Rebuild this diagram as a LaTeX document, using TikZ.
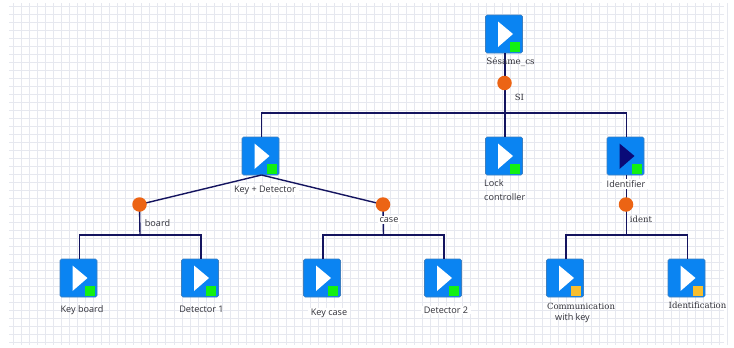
\documentclass[tikz,border=0pt]{standalone}
\usepackage{fontspec}
\setmainfont{Open Sans}
\newfontfamily\serifl{DejaVu Serif}
\definecolor{iconblue}{HTML}{0A84F2}
\definecolor{iconedge}{HTML}{3C7FC0}
\definecolor{wirec}{HTML}{14145F}
\definecolor{dotc}{HTML}{EC6414}
\definecolor{gridc}{HTML}{E6E8EF}
\definecolor{leafg}{HTML}{12F012}
\definecolor{leafy}{HTML}{F7BE2E}
\definecolor{darkt}{HTML}{0A0A78}
\definecolor{labelc}{HTML}{303038}
\tikzset{
  icon/.style={draw=iconedge,line width=.6pt,fill=iconblue,rounded corners=1.5pt,minimum width=37pt,minimum height=38pt,inner sep=0pt,outer sep=0pt},
  wire/.style={draw=wirec,line width=1.4pt},
  junction/.style={circle,fill=dotc,minimum size=14.5pt,inner sep=0pt,outer sep=0pt},
  lab/.style={text=labelc,font=\fontsize{9.1}{14.5}\selectfont,inner sep=1pt},
  slab/.style={text=labelc,font=\serifl\fontsize{8.5}{13}\selectfont,inner sep=1pt},
  patch/.style={fill=white,inner xsep=3pt,inner ysep=1pt},
  up/.style={xshift=1pt}
}
\newcommand{\blockicon}[5]{%
  \node[icon] (#1) at (#2,#3) {};
  \fill[#4] ([xshift=-6pt,yshift=12.5pt]#1.center) -- ([xshift=9pt]#1.center) -- ([xshift=-6pt,yshift=-13pt]#1.center) -- cycle;
  \fill[#5] ([xshift=6pt,yshift=-8pt]#1.center) rectangle ([xshift=16pt,yshift=-18pt]#1.center);
}
\begin{document}
\begin{tikzpicture}[x=1pt,y=-1pt]
\useasboundingbox (0,0) rectangle (734,348);
\fill[white] (0,0) rectangle (734,348);
% grid
\foreach \k in {0,...,89} {\draw[gridc,line width=1pt] ({13.6+8.02*\k},3) -- ({13.6+8.02*\k},345);}
\foreach \k in {0,...,42} {\draw[gridc,line width=1pt] (9,{6+8*\k}) -- (724,{6+8*\k});}
% icons
\blockicon{root}{504}{34}{white}{leafg}
\blockicon{kd}{260.5}{156}{white}{leafg}
\blockicon{lock}{504}{156}{white}{leafg}
\blockicon{idn}{625.5}{156}{darkt}{leafg}
\blockicon{kb}{78.5}{278}{white}{leafg}
\blockicon{da}{200}{278}{white}{leafg}
\blockicon{kc}{322}{278}{white}{leafg}
\blockicon{db}{443}{278}{white}{leafg}
\blockicon{com}{565}{278}{white}{leafy}
\blockicon{ida}{686.5}{278}{white}{leafy}
% junctions and buses
\coordinate (b0) at (505,113);
\coordinate (b1) at (140,235);
\coordinate (b2) at (383.5,235);
\coordinate (b3) at (626.5,235);
\coordinate (j0c) at (504.5,83);
\coordinate (j1c) at (139.5,204.5);
\coordinate (j2c) at (383,204.5);
\coordinate (j3c) at (626,204.5);
\draw[wire] ([up]root.south) -- (b0);
\draw[wire] ([up]kd.north) |- (b0) -| ([up]idn.north);
\draw[wire] ([up]lock.north) -- (b0);
\draw[wire] ([up]kd.south) -- (j1c);
\draw[wire] ([up]kd.south) -- (j2c);
\draw[wire] (j1c) -- (b1);
\draw[wire] (j2c) -- (b2);
\draw[wire] ([up]kb.north) |- (b1) -| ([up]da.north);
\draw[wire] ([up]kc.north) |- (b2) -| ([up]db.north);
\draw[wire] ([up]idn.south) -- (b3);
\draw[wire] ([up]com.north) |- (b3) -| ([up]ida.north);
\node[junction] (j0) at (j0c) {};
\node[junction] (j1) at (j1c) {};
\node[junction] (j2) at (j2c) {};
\node[junction] (j3) at (j3c) {};
% labels
\node[slab,font=\serifl\fontsize{8.8}{13}\selectfont] (l0) at (510.5,62) {Sésame\_cs};
\node[slab] (s0) at (519.5,97) {SI};
\node[lab,patch] (l1) at (265,190) {Key + Detector};
\node[lab,align=left,anchor=north west] (l2) at (483,178) {Lock\\controller};
\node[lab,patch,inner xsep=5pt] (l3) at (626,184) {Identifier};
\node[lab] (s1) at (157.5,223) {board};
\node[lab,patch,inner xsep=2pt] (s2) at (389,220) {case};
\node[slab] (s3) at (641,219) {ident};
\node[lab] (l4) at (82,310) {Key board};
\node[lab] (l5) at (201.5,309) {Detector 1};
\node[lab,patch] (l6) at (329,313) {Key case};
\node[lab,patch] (l7) at (446,310) {Detector 2};
\node[slab] (l8) at (581,306) {Communication};
\node[lab] (l8b) at (572.5,318.5) {with key};
\node[slab] (l9) at (697.5,305) {Identification};
\end{tikzpicture}
\end{document}
